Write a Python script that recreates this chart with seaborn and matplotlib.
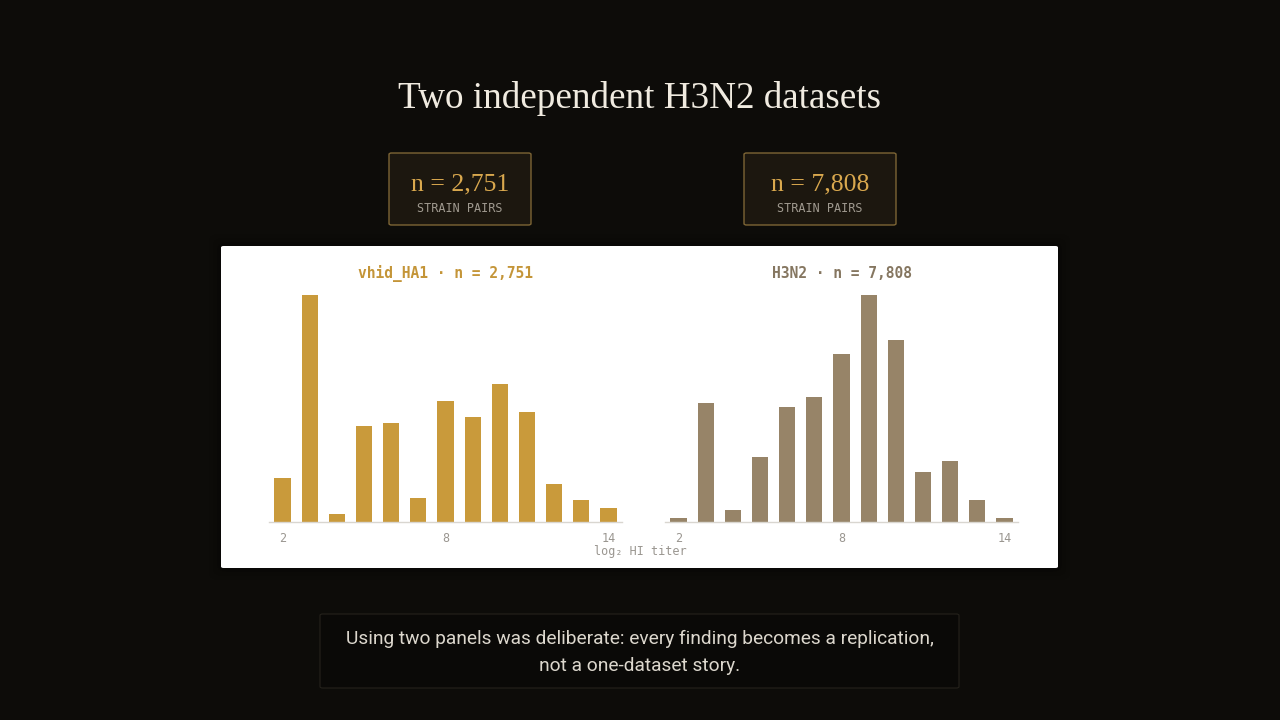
import matplotlib
matplotlib.use("Agg")
import matplotlib.pyplot as plt
import seaborn as sns
import pandas as pd
from matplotlib.patches import FancyBboxPatch

# ---- data ----
titers = [2, 3, 4, 5, 6, 7, 8, 9, 10, 11, 12, 13, 14]
vhid_counts = [115, 596, 21, 253, 261, 64, 319, 275, 362, 289, 101, 57, 36]
h3n2_counts = [27, 807, 81, 437, 780, 848, 1135, 1534, 1231, 341, 410, 150, 27]
panel_titles = ["vhid_HA1 · n = 2,751", "H3N2 · n = 7,808"]
box_numbers = ["n = 2,751", "n = 7,808"]
box_label = "STRAIN PAIRS"
tick_values = [2, 8, 14]
title = "Two independent H3N2 datasets"
xlabel = "log\u2082 HI titer"
caption = ("Using two panels was deliberate: every finding becomes a replication,\n"
           "not a one-dataset story.")

BG = "#0d0c09"
GOLD = "#c99a3b"
TAUPE = "#978468"

sns.set_theme(style="white")
plt.rcParams["font.family"] = ["DejaVu Sans"]

fig = plt.figure(figsize=(12.8, 7.2), dpi=100, facecolor=BG)

def fx(px):
    return px / 1280.0

def fy(py):
    return 1 - py / 720.0

# title
fig.text(0.5, fy(99), title, ha="center", va="center", color="#f0ebe0",
         fontsize=26.7, family="Liberation Serif")

# number boxes
for (x0, x1), num in zip([(389, 531), (744, 896)], box_numbers):
    box = FancyBboxPatch((fx(x0), fy(225)), fx(x1 - x0), (225 - 153) / 720.0,
                         boxstyle="round,pad=0,rounding_size=0.002",
                         transform=fig.transFigure, facecolor="#1c170f",
                         edgecolor="#7d6535", linewidth=1.0, zorder=1)
    fig.patches.append(box)
    cx = fx((x0 + x1) / 2)
    fig.text(cx, fy(184), num, ha="center", va="center", color="#d9a84e",
             fontsize=18.5, family="Liberation Serif", zorder=2)
    fig.text(cx, fy(208), box_label, ha="center", va="center", color="#a09a90",
             fontsize=8.5, family="DejaVu Sans Mono", zorder=2)

# white card with shadow
for i, a in enumerate([0.10, 0.07, 0.04]):
    pad = (i + 1) * 4
    sh = FancyBboxPatch((fx(221 - pad), fy(568 + pad)), fx(837 + 2 * pad), (322 + 2 * pad) / 720.0,
                        boxstyle="round,pad=0,rounding_size=0.01",
                        transform=fig.transFigure, facecolor="black",
                        edgecolor="none", alpha=a, zorder=0)
    fig.patches.append(sh)
card = FancyBboxPatch((fx(221), fy(568)), fx(837), 322 / 720.0,
                      boxstyle="round,pad=0,rounding_size=0.002",
                      transform=fig.transFigure, facecolor="white",
                      edgecolor="none", zorder=1)
fig.patches.append(card)

# caption box
cap = FancyBboxPatch((fx(320), fy(688)), fx(639), 74 / 720.0,
                     boxstyle="round,pad=0,rounding_size=0.002",
                     transform=fig.transFigure, facecolor="#0a0907",
                     edgecolor="#25221c", linewidth=0.8, zorder=1)
fig.patches.append(cap)
fig.text(0.5, fy(652.5), caption, ha="center", va="center", color="#dcd7cd",
         fontsize=13.8, family="Roboto", linespacing=1.68, zorder=2)

# panels
panels = [
    (269, vhid_counts, GOLD, "#c49538"),
    (665, h3n2_counts, TAUPE, "#857660"),
]
for (left_px, counts, color, tcolor), ptitle in zip(panels, panel_titles):
    ax = fig.add_axes([fx(left_px), fy(522), fx(353), 227 / 720.0])
    ax.set_zorder(3)
    df = pd.DataFrame({"titer": titers, "count": counts})
    sns.barplot(data=df, x="titer", y="count", native_scale=True, width=0.6,
                color=color, saturation=1, ax=ax, edgecolor="none")
    ax.set_xlim(1.5, 14.5)
    ax.set_ylim(0, max(counts))
    ax.set_facecolor("none")
    for s in ["top", "right", "left"]:
        ax.spines[s].set_visible(False)
    ax.spines["bottom"].set_color("#d9d6d0")
    ax.spines["bottom"].set_linewidth(1.0)
    ax.set_yticks([])
    ax.set_xticks(tick_values)
    ax.set_xticklabels([str(t) for t in tick_values], color="#9a9690",
                       fontsize=8.5, family="DejaVu Sans Mono")
    ax.tick_params(axis="x", length=0, pad=7)
    ax.set_xlabel("")
    ax.set_ylabel("")
    ax.set_title(ptitle, color=tcolor, fontsize=10.5, family="DejaVu Sans Mono",
                 fontweight="bold", pad=12)

fig.text(0.5, fy(552), xlabel, ha="center", va="center", color="#9a9690",
         fontsize=8.5, family="DejaVu Sans Mono", zorder=5)

fig.savefig("out.png", dpi=100, facecolor=BG)
